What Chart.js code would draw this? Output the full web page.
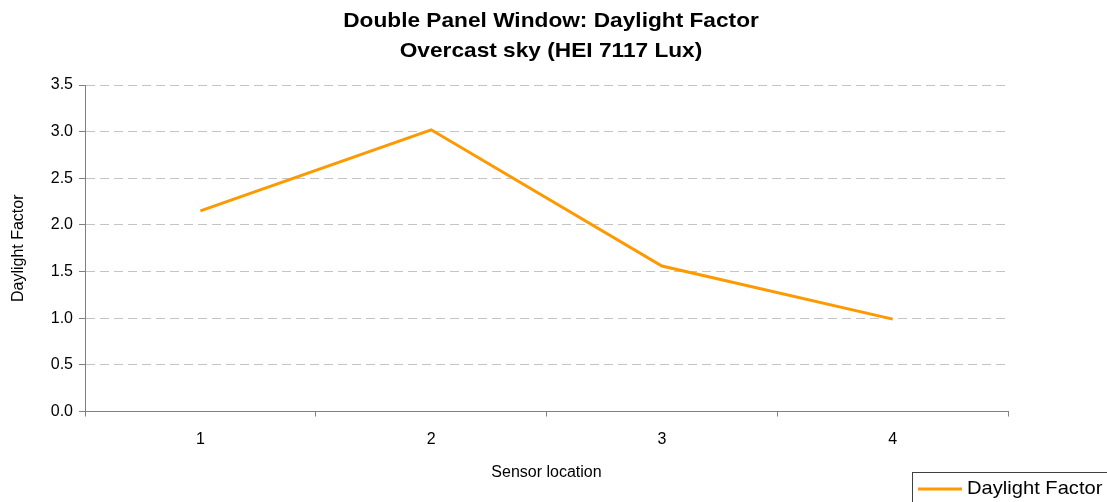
<!DOCTYPE html>
<html>
<head>
<meta charset="utf-8">
<script src="https://cdn.jsdelivr.net/npm/chart.js@4/dist/chart.umd.min.js"></script>
<style>
html,body{margin:0;padding:0;background:#fff;}
#wrap{width:1107px;height:502px;position:relative;}
</style>
</head>
<body>
<div id="wrap"><canvas id="c" width="1107" height="502"></canvas></div>
<script>
const titleLines = ["Double Panel Window: Daylight Factor", "Overcast sky (HEI 7117 Lux)"];
const categories = ["1", "2", "3", "4"];
const seriesName = "Daylight Factor";
const seriesValues = [2.15, 3.02, 1.56, 0.99];
const yTicks = [0, 0.5, 1.0, 1.5, 2.0, 2.5, 3.0, 3.5];
const xAxisTitle = "Sensor location";
const yAxisTitle = "Daylight Factor";

const FONT = "'Liberation Sans', Arial, sans-serif";
const LINE_COLOR = "#FF9900";

const titlePlugin = {
  id: 'customTitle',
  afterDraw(chart) {
    const ctx = chart.ctx;
    const sx = 1.08;
    ctx.save();
    ctx.fillStyle = '#000';
    ctx.font = "bold 21px " + FONT;
    ctx.textAlign = 'center';
    ctx.textBaseline = 'middle';
    ctx.translate(551, 0);
    ctx.scale(sx, 1);
    ctx.fillText(titleLines[0], 0, 21);
    ctx.fillText(titleLines[1], 0, 51);
    ctx.restore();
  }
};

const legendPlugin = {
  id: 'customLegend',
  afterDraw(chart) {
    const ctx = chart.ctx;
    ctx.save();
    ctx.strokeStyle = '#404040';
    ctx.lineWidth = 1;
    ctx.strokeRect(912.5, 472.5, 220, 40);
    ctx.strokeStyle = LINE_COLOR;
    ctx.lineWidth = 3;
    ctx.beginPath();
    ctx.moveTo(918, 489);
    ctx.lineTo(962, 489);
    ctx.stroke();
    ctx.fillStyle = '#000';
    ctx.font = "19px " + FONT;
    ctx.textAlign = 'left';
    ctx.textBaseline = 'middle';
    ctx.translate(967, 489);
    ctx.scale(1.06, 1);
    ctx.fillText(seriesName, 0, 0);
    ctx.restore();
  }
};

new Chart(document.getElementById('c'), {
  type: 'line',
  data: {
    labels: categories,
    datasets: [{
      label: seriesName,
      data: seriesValues,
      borderColor: LINE_COLOR,
      backgroundColor: LINE_COLOR,
      borderWidth: 3,
      pointRadius: 0,
      tension: 0,
      fill: false
    }]
  },
  options: {
    responsive: false,
    animation: false,
    devicePixelRatio: 1,
    layout: { padding: { top: 85, right: 99, left: 0, bottom: 0 } },
    plugins: {
      legend: { display: false },
      title: { display: false },
      tooltip: { enabled: false }
    },
    scales: {
      x: {
        type: 'category',
        offset: true,
        afterFit(scale) { scale.height = 90.5; },
        grid: {
          offset: true,
          drawOnChartArea: false,
          drawTicks: true,
          tickLength: 5,
          color: '#808080',
          tickColor: '#808080'
        },
        border: { color: '#808080', width: 1 },
        ticks: {
          color: '#000',
          font: { family: FONT, size: 16 },
          padding: 13,
          maxRotation: 0
        },
        title: {
          display: true,
          text: xAxisTitle,
          color: '#000',
          font: { family: FONT, size: 16 },
          padding: { top: 0, bottom: 20 }
        }
      },
      y: {
        min: 0,
        max: 3.5,
        afterFit(scale) { scale.width = 85; },
        afterBuildTicks(scale) { scale.ticks = yTicks.map(v => ({ value: v })); },
        grid: {
          color: '#c4c4c4',
          lineWidth: 1,
          drawTicks: true,
          tickLength: 6,
          tickColor: '#808080',
          tickBorderDash: [],
          tickWidth: 1
        },
        border: { color: '#808080', width: 1, dash: [9, 5] },
        ticks: {
          color: '#000',
          font: { family: FONT, size: 16 },
          padding: 6,
          callback: (v) => Number(v).toFixed(1)
        },
        title: {
          display: true,
          text: yAxisTitle,
          color: '#000',
          font: { family: FONT, size: 16 },
          padding: { top: 9, bottom: 0 }
        }
      }
    }
  },
  plugins: [titlePlugin, legendPlugin]
});
</script>
</body>
</html>
